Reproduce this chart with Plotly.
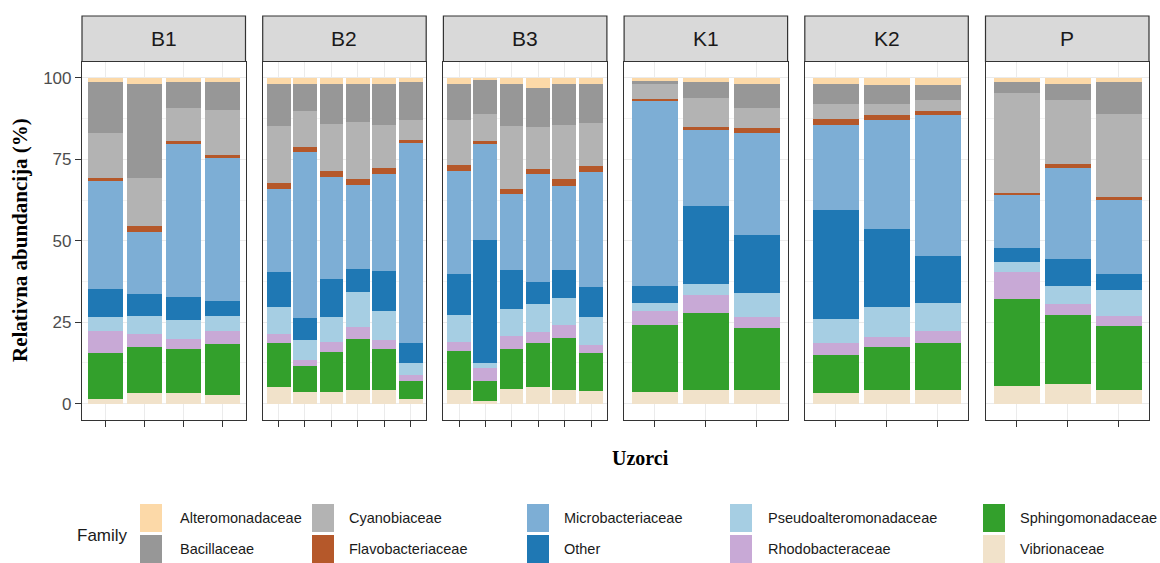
import plotly.graph_objects as go

# ---------------- data ----------------
facets = ["B1", "B2", "B3", "K1", "K2", "P"]
facet_sizes = [4, 6, 6, 3, 3, 3]

sample_facet = ["B1", "B1", "B1", "B1",
                "B2", "B2", "B2", "B2", "B2", "B2",
                "B3", "B3", "B3", "B3", "B3", "B3",
                "K1", "K1", "K1",
                "K2", "K2", "K2",
                "P", "P", "P"]
sample_pos = [1, 2, 3, 4,
              1, 2, 3, 4, 5, 6,
              1, 2, 3, 4, 5, 6,
              1, 2, 3,
              1, 2, 3,
              1, 2, 3]

families = ["Alteromonadaceae", "Bacillaceae", "Cyanobiaceae", "Flavobacteriaceae",
            "Microbacteriaceae", "Other", "Pseudoalteromonadaceae", "Rhodobacteraceae",
            "Sphingomonadaceae", "Vibrionaceae"]
family_colors = ["#FCD9A8", "#979797", "#B3B3B3", "#B5582A",
                 "#7DAED5", "#1F78B4", "#A6CEE3", "#C8A9D6",
                 "#33A02C", "#F1E2CA"]

alteromonadaceae = [1.1, 1.7, 1.1, 1.1,
                    1.9, 1.9, 1.9, 1.9, 1.9, 1.1,
                    1.9, 0.4, 1.9, 3.0, 1.9, 1.9,
                    0.7, 1.1, 1.9,
                    1.7, 2.1, 2.1,
                    1.1, 1.7, 1.1]
bacillaceae = [15.6, 28.8, 8.0, 8.5,
               12.8, 8.0, 12.0, 11.6, 12.3, 11.8,
               10.9, 10.7, 12.8, 12.0, 12.5, 11.9,
               1.2, 4.9, 7.2,
               6.2, 5.8, 4.7,
               3.4, 5.1, 9.8]
cyanobiaceae = [14.0, 14.8, 10.2, 13.8,
                17.4, 11.2, 14.5, 17.5, 13.3, 6.1,
                13.8, 8.2, 19.3, 12.7, 16.6, 13.2,
                4.6, 9.0, 6.1,
                4.5, 3.5, 3.1,
                30.8, 19.6, 25.5]
flavobacteriaceae = [0.8, 2.0, 1.0, 1.0,
                     1.9, 1.4, 2.0, 1.7, 2.0, 0.8,
                     1.8, 0.8, 1.6, 1.8, 2.0, 1.7,
                     0.3, 0.9, 1.6,
                     1.8, 1.5, 1.4,
                     0.3, 1.2, 0.8]
microbacteriaceae = [33.2, 18.9, 46.7, 43.8,
                     25.3, 51.0, 31.2, 25.7, 29.7, 61.5,
                     31.6, 29.5, 23.2, 32.9, 25.8, 35.2,
                     56.8, 23.2, 31.2,
                     26.3, 33.4, 43.3,
                     16.6, 27.8, 22.8]
other = [8.6, 6.7, 7.1, 4.7,
         10.9, 6.7, 11.5, 7.2, 12.1, 6.1,
         12.5, 37.8, 11.9, 6.8, 8.6, 9.4,
         5.4, 24.0, 18.0,
         33.3, 23.9, 14.4,
         4.1, 8.3, 5.1]
pseudoalteromonadaceae = [4.1, 5.7, 5.8, 4.7,
                          8.2, 6.1, 7.9, 10.8, 8.9, 3.7,
                          8.5, 1.4, 8.5, 8.7, 8.4, 8.4,
                          2.3, 3.3, 7.3,
                          7.5, 9.3, 8.4,
                          3.2, 5.5, 7.8]
rhodobacteraceae = [6.9, 3.9, 3.2, 3.9,
                    2.9, 2.1, 3.1, 3.6, 2.9, 1.8,
                    2.7, 4.1, 3.8, 3.4, 4.0, 2.6,
                    4.3, 5.5, 3.4,
                    3.6, 3.0, 3.9,
                    8.3, 3.3, 3.1]
sphingomonadaceae = [14.0, 14.2, 13.4, 15.7,
                     13.4, 8.0, 12.1, 15.7, 12.6, 5.4,
                     11.8, 6.2, 12.2, 13.4, 15.9, 11.6,
                     20.7, 23.6, 18.8,
                     11.6, 13.2, 14.4,
                     26.7, 21.2, 19.5]
vibrionaceae = [1.7, 3.3, 3.5, 2.8,
                5.3, 3.6, 3.8, 4.3, 4.3, 1.7,
                4.5, 0.9, 4.8, 5.3, 4.3, 4.1,
                3.7, 4.5, 4.5,
                3.5, 4.3, 4.3,
                5.5, 6.3, 4.5]

family_values = {
    "Alteromonadaceae": alteromonadaceae,
    "Bacillaceae": bacillaceae,
    "Cyanobiaceae": cyanobiaceae,
    "Flavobacteriaceae": flavobacteriaceae,
    "Microbacteriaceae": microbacteriaceae,
    "Other": other,
    "Pseudoalteromonadaceae": pseudoalteromonadaceae,
    "Rhodobacteraceae": rhodobacteraceae,
    "Sphingomonadaceae": sphingomonadaceae,
    "Vibrionaceae": vibrionaceae,
}

y_ticks = [0, 25, 50, 75, 100]
y_tick_labels = ["0", "25", "50", "75", "100"]

# ---------------- layout geometry (pixels) ----------------
W, H = 1160, 563
PANEL_LEFT0 = 82
PANEL_STEP = 180.7
PANEL_W = 163.5
PANEL_TOP = 61.5
PANEL_BOTTOM = 420
STRIP_TOP = 16

SANS = "Liberation Sans, Arial, sans-serif"
SERIF = "Liberation Serif, Times New Roman, serif"
BORDER = "#333333"
GRID = "#EBEBEB"


def px(x):
    return x / W


def py(y):
    return 1 - y / H


fig = go.Figure()

# stack bottom -> top: reverse of legend order
for fi, facet in enumerate(facets):
    idx = [i for i, f in enumerate(sample_facet) if f == facet]
    ax = "" if fi == 0 else str(fi + 1)
    for fam, col in zip(reversed(families), reversed(family_colors)):
        vals = family_values[fam]
        fig.add_trace(go.Bar(
            x=[sample_pos[i] for i in idx],
            y=[vals[i] for i in idx],
            width=0.9,
            marker=dict(color=col, line=dict(width=0)),
            name=fam,
            showlegend=False,
            xaxis="x" + ax,
            yaxis="y" + ax,
        ))

shapes = []
annotations = []

for fi, facet in enumerate(facets):
    n = facet_sizes[fi]
    x0 = PANEL_LEFT0 + fi * PANEL_STEP
    x1 = x0 + PANEL_W
    ax = "" if fi == 0 else str(fi + 1)
    fig.layout["xaxis" + ax] = dict(
        domain=[px(x0), px(x1)],
        range=[0.4, n + 0.6],
        tickmode="array",
        tickvals=list(range(1, n + 1)),
        ticktext=[""] * n,
        ticks="outside", ticklen=6, tickwidth=1.2, tickcolor=BORDER,
        showgrid=True, gridcolor=GRID, gridwidth=1,
        showline=True, linecolor=BORDER, linewidth=1.2, mirror=True,
        zeroline=False, anchor="y" + ax, fixedrange=True,
    )
    fig.layout["yaxis" + ax] = dict(
        domain=[py(PANEL_BOTTOM), py(PANEL_TOP)],
        range=[-5, 105],
        tickmode="array",
        tickvals=y_ticks,
        ticktext=y_tick_labels,
        showticklabels=(fi == 0),
        ticks="outside" if fi == 0 else "",
        ticklen=6, tickwidth=1.2, tickcolor=BORDER,
        tickfont=dict(family=SANS, size=17, color="#4D4D4D"),
        showgrid=True, gridcolor=GRID, gridwidth=1,
        minor=dict(tick0=0, dtick=12.5, showgrid=True, gridcolor="#F3F3F3",
                   gridwidth=0.7, ticks=""),
        showline=True, linecolor=BORDER, linewidth=1.2, mirror=True,
        zeroline=False, anchor="x" + ax, fixedrange=True,
    )
    # strip
    shapes.append(dict(type="rect", xref="paper", yref="paper",
                       x0=px(x0), x1=px(x1), y0=py(PANEL_TOP), y1=py(STRIP_TOP),
                       fillcolor="#D9D9D9", line=dict(color=BORDER, width=1.2),
                       layer="above"))
    annotations.append(dict(text=facet, xref="paper", yref="paper",
                            x=px((x0 + x1) / 2), y=py((STRIP_TOP + PANEL_TOP) / 2),
                            showarrow=False, xanchor="center", yanchor="middle",
                            font=dict(family=SANS, size=21, color="#1A1A1A")))

# axis titles
annotations.append(dict(text="<b>Relativna abundancija (%)</b>", xref="paper", yref="paper",
                        x=px(20), y=py(240), textangle=-90,
                        showarrow=False, xanchor="center", yanchor="middle",
                        font=dict(family=SERIF, size=21, color="#000000")))
annotations.append(dict(text="<b>Uzorci</b>", xref="paper", yref="paper",
                        x=px(640), y=py(458),
                        showarrow=False, xanchor="center", yanchor="middle",
                        font=dict(family=SERIF, size=20, color="#000000")))

# legend (drawn manually, 2 rows x 5 columns, column-major)
annotations.append(dict(text="Family", xref="paper", yref="paper",
                        x=px(75), y=py(535), showarrow=False,
                        xanchor="left", yanchor="middle",
                        font=dict(family=SANS, size=17, color="#1A1A1A")))
col_key_x = [140, 312, 527, 730, 983]
col_text_x = [178, 347, 562, 766, 1018]
row_key_y = [(504, 532), (535, 563)]
KEY_W = 22
for k, (fam, col) in enumerate(zip(families, family_colors)):
    c, r = k // 2, k % 2
    kx = col_key_x[c]
    ky0, ky1 = row_key_y[r]
    shapes.append(dict(type="rect", xref="paper", yref="paper",
                       x0=px(kx), x1=px(kx + KEY_W), y0=py(ky1), y1=py(ky0),
                       fillcolor=col, line=dict(width=0), layer="above"))
    annotations.append(dict(text=fam, xref="paper", yref="paper",
                            x=px(col_text_x[c]), y=py((ky0 + ky1) / 2),
                            showarrow=False, xanchor="left", yanchor="middle",
                            font=dict(family=SANS, size=14.5, color="#1A1A1A")))

fig.update_layout(
    width=W, height=H,
    margin=dict(l=0, r=0, t=0, b=0, pad=0),
    paper_bgcolor="white", plot_bgcolor="white",
    barmode="stack", bargap=0,
    showlegend=False,
    shapes=shapes, annotations=annotations,
)

fig.write_html("out.html", config={"displayModeBar": False},
               post_script="document.body.style.margin='0px';")
